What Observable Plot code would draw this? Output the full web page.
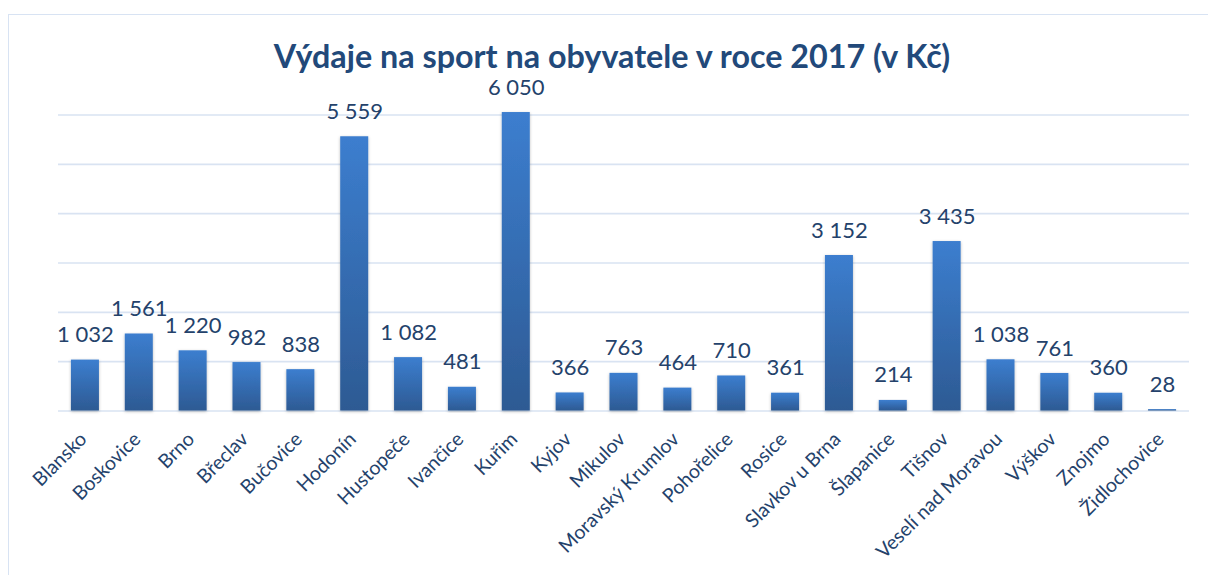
<!DOCTYPE html>
<html>
<head>
<meta charset="utf-8">
<script src="https://cdn.jsdelivr.net/npm/d3@7"></script>
<script src="https://cdn.jsdelivr.net/npm/@observablehq/plot@0.6"></script>
<style>
  html, body { margin: 0; padding: 0; background: #fff; overflow: hidden; }
  body { width: 1208px; height: 575px; position: relative; font-family: Lato, "Open Sans", sans-serif; }
  #frame { position: absolute; left: 8px; top: 14px; width: 1220px; height: 600px; border: 1.5px solid #d8e3f3; box-sizing: border-box; }
  #title { position: absolute; left: 0; width: 1224px; top: 39px; text-align: center; font-family: Lato, sans-serif; font-weight: 700; font-size: 32.3px; color: #22497a; line-height: 34px; }
  #chart { position: absolute; left: 0; top: 80px; }
</style>
</head>
<body>
<div id="frame"></div>
<div id="title">Výdaje na sport na obyvatele v roce 2017 (v Kč)</div>
<div id="chart"></div>
<script>
const towns = ["Blansko","Boskovice","Brno","Břeclav","Bučovice","Hodonín","Hustopeče","Ivančice","Kuřim","Kyjov","Mikulov","Moravský Krumlov","Pohořelice","Rosice","Slavkov u Brna","Šlapanice","Tišnov","Veselí nad Moravou","Výškov","Znojmo","Židlochovice"];
const spending = [1032,1561,1220,982,838,5559,1082,481,6050,366,763,464,710,361,3152,214,3435,1038,761,360,28];
const gridValues = [0,1000,2000,3000,4000,5000,6000];

const data = towns.map((t, i) => ({town: t, value: spending[i]}));
const fmt = v => d3.format(",")(v).replace(/,/g, " ");

const defs = () => {
  const ns = "http://www.w3.org/2000/svg";
  const d = document.createElementNS(ns, "defs");
  d.innerHTML = `
    <linearGradient id="barGrad" x1="0" y1="0" x2="0" y2="1">
      <stop offset="0" stop-color="#3c7ecf"/>
      <stop offset="1" stop-color="#2d5a93"/>
    </linearGradient>
    <filter id="shadow" x="-30%" y="-5%" width="160%" height="115%">
      <feDropShadow dx="0" dy="1" stdDeviation="1.6" flood-color="#000" flood-opacity="0.28"/>
    </filter>`;
  return d;
};

const plot = Plot.plot({
  width: 1208,
  height: 495,
  marginLeft: 58,
  marginRight: 19,
  marginTop: 34.5,
  marginBottom: 164.5,
  style: {background: "transparent", fontFamily: "Lato, sans-serif", overflow: "visible"},
  x: {domain: towns, paddingInner: 0.48, paddingOuter: 0.24, round: false, axis: null},
  y: {domain: [0, 6000], axis: null},
  marks: [
    defs,
    Plot.ruleY(gridValues, {stroke: "#d9e3f2", strokeWidth: 1.6}),
    Plot.barY(data, {x: "town", y: "value", fill: "url(#barGrad)"}),
    Plot.text(data, {x: "town", y: "value", text: d => fmt(d.value), dy: -25, fontSize: 22, fill: "#24426b"}),
    Plot.text(towns, {x: d => d, frameAnchor: "bottom", dy: 25, dx: -2, rotate: -45, textAnchor: "end", lineAnchor: "middle", fontSize: 19.5, fill: "#24426b", text: d => d})
  ]
});
plot.querySelectorAll("rect").forEach(r => r.setAttribute("filter", "url(#shadow)"));
document.getElementById("chart").appendChild(plot);
</script>
</body>
</html>
